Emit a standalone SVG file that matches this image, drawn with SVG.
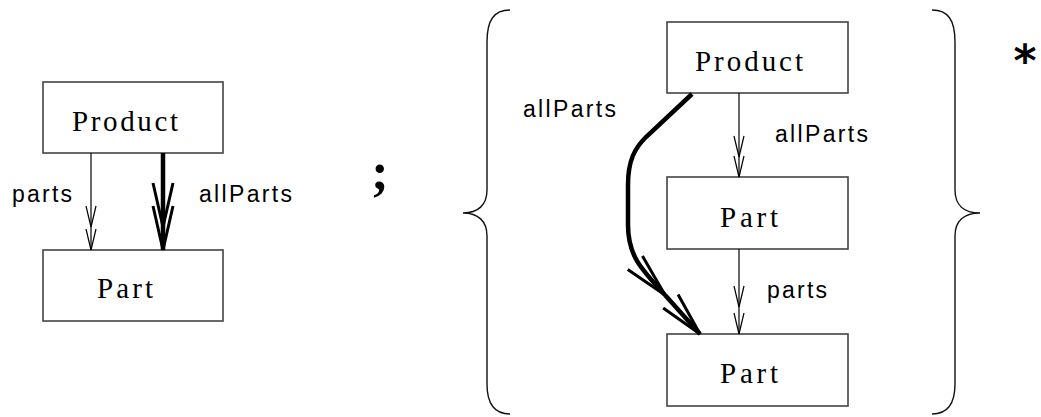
<svg xmlns="http://www.w3.org/2000/svg" width="1041" height="417" viewBox="0 0 1041 417">
<style>
.box{fill:#fff;stroke:#444;stroke-width:1.6}
.serif{font-family:"Liberation Serif","Times New Roman",serif;font-size:29px;fill:#000}
.sans{font-family:"Liberation Sans",Arial,sans-serif;font-size:23px;fill:#000}
.thin{fill:none;stroke:#000;stroke-width:1.2}
.thick{fill:none;stroke:#000;stroke-width:4.5;stroke-linecap:butt}
.brace{fill:none;stroke:#111;stroke-width:1.4}
</style>
<defs>
<marker id="chevThin" markerUnits="userSpaceOnUse" viewBox="-22 -7 24 14" markerWidth="24" markerHeight="14" refX="0" refY="0" orient="auto" overflow="visible">
<path d="M-21,-5 L0,0 L-21,5" fill="none" stroke="#000" stroke-width="1.2"/>
</marker>
<marker id="chevThick" markerUnits="userSpaceOnUse" viewBox="-46 -12 48 24" markerWidth="48" markerHeight="24" refX="0" refY="0" orient="auto" overflow="visible">
<path d="M-44,-10 L0,0 L-44,10" fill="none" stroke="#000" stroke-width="3"/>
</marker>
</defs>

<g id="left-product"><rect class="box" x="43" y="82" width="180" height="71"/><text class="serif" x="72" y="131" textLength="106" lengthAdjust="spacing">Product</text></g>
<g id="left-part"><rect class="box" x="43" y="250" width="180" height="71"/><text class="serif" x="97" y="298" textLength="56" lengthAdjust="spacing">Part</text></g>

<g id="right-product"><rect class="box" x="667" y="22" width="181" height="71"/><text class="serif" x="695" y="71" textLength="108" lengthAdjust="spacing">Product</text></g>
<g id="right-part-mid"><rect class="box" x="667" y="177" width="181" height="72"/><text class="serif" x="720" y="227" textLength="58" lengthAdjust="spacing">Part</text></g>
<g id="right-part-bot"><rect class="box" x="667" y="334" width="181" height="72"/><text class="serif" x="720" y="383" textLength="58" lengthAdjust="spacing">Part</text></g>

<g id="connectors">
<path class="thin" d="M91,153 V227" marker-end="url(#chevThin)"/>
<path class="thin" d="M91,227 V250" marker-end="url(#chevThin)"/>
<path class="thick" d="M163,153 V227" marker-end="url(#chevThick)"/>
<path class="thick" d="M163,227 V250" marker-end="url(#chevThick)"/>
<path class="thin" d="M739,93 V157" marker-end="url(#chevThin)"/>
<path class="thin" d="M739,157 V177" marker-end="url(#chevThin)"/>
<path class="thin" d="M739,249 V307" marker-end="url(#chevThin)"/>
<path class="thin" d="M739,307 V334" marker-end="url(#chevThin)"/>
<path class="thick" d="M692,94 L646,137 C635,148 628,160 628,185 L628,225 C628,255 640,268 665,295" marker-end="url(#chevThick)"/>
<path class="thick" d="M665,295 L700,334" marker-end="url(#chevThick)"/>
</g>

<g id="labels">
<text class="sans" x="12" y="202" textLength="60" lengthAdjust="spacing">parts</text>
<text class="sans" x="199" y="202" textLength="93" lengthAdjust="spacing">allParts</text>
<text class="sans" x="523" y="117" textLength="93" lengthAdjust="spacing">allParts</text>
<text class="sans" x="775" y="142" textLength="93" lengthAdjust="spacing">allParts</text>
<text class="sans" x="767" y="298" textLength="60" lengthAdjust="spacing">parts</text>
</g>

<g id="operators">
<text x="380" y="189" text-anchor="middle" style="font-family:'Liberation Serif','Times New Roman',serif;font-weight:bold;font-size:52px">;</text>
<path class="brace" d="M510,10 C494,10 487,20 487,42 L487,190 C487,205 478,213 463,213 C478,213 487,221 487,236 L487,384 C487,404 494,414 510,414"/>
<path class="brace" d="M932,10 C948,10 955,20 955,42 L955,190 C955,205 964,213 980,213 C964,213 955,221 955,236 L955,384 C955,404 948,414 932,414"/>
<text x="1025" y="76" text-anchor="middle" style="font-family:'DejaVu Sans',sans-serif;font-weight:bold;font-size:44px">*</text>
</g>
</svg>
